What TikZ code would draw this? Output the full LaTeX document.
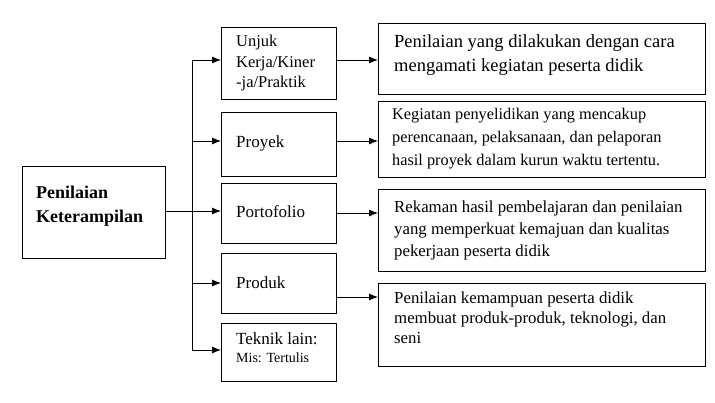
\documentclass[tikz,border=0pt]{standalone}
\usepackage{fontspec}
\setmainfont{Liberation Serif}
\usetikzlibrary{arrows.meta}
\begin{document}
\begin{tikzpicture}[x=1pt,y=-1pt,
 box/.style={draw,line width=1pt,anchor=north west,inner sep=0pt},
 txt/.style={align=left,anchor=north west,inner sep=0pt},
 arr/.style={line width=0.8pt,-{Latex[length=9pt,width=7pt]}},
 ln/.style={line width=0.8pt}]
\useasboundingbox (0,0) rectangle (715,403);
\node[box,minimum width=143,minimum height=92] (L) at (22,166) {};
\node[txt,font=\fontsize{18}{24}\selectfont\bfseries] at (36,186) {Penilaian\\Keterampilan};
\node[box,minimum width=115,minimum height=72] (m1) at (221,27) {};
\node[txt,font=\fontsize{16.5}{20.5}\selectfont] at (236,35) {Unjuk\\Kerja/Kiner\\-ja/Praktik};
\node[box,minimum width=115,minimum height=64] (m2) at (221,112) {};
\node[anchor=west,inner sep=0pt,font=\fontsize{17}{20}\selectfont] at (236,143) {Proyek};
\node[box,minimum width=115,minimum height=60] (m3) at (221,183) {};
\node[anchor=west,inner sep=0pt,font=\fontsize{17}{20}\selectfont] at (236,212) {Portofolio};
\node[box,minimum width=115,minimum height=60] (m4) at (221,253) {};
\node[anchor=west,inner sep=0pt,font=\fontsize{17}{20}\selectfont] at (236,283) {Produk};
\node[box,minimum width=115,minimum height=58] (m5) at (221,323) {};
\node[txt,font=\fontsize{17}{20}\selectfont] at (236,333) {Teknik lain:\\[-2pt]{\fontsize{14}{16}\selectfont Mis: Tertulis}};
\node[box,minimum width=327,minimum height=71] (r1) at (378,23) {};
\node[txt,font=\fontsize{18.5}{24}\selectfont] at (394,34) {Penilaian yang dilakukan dengan cara\\mengamati kegiatan peserta didik};
\node[box,minimum width=327,minimum height=76] (r2) at (378,101) {};
\node[txt,font=\fontsize{16.3}{23}\selectfont] at (392,108) {Kegiatan penyelidikan yang mencakup\\perencanaan, pelaksanaan, dan pelaporan\\hasil proyek dalam kurun waktu tertentu.};
\node[box,minimum width=327,minimum height=82] (r3) at (378,189) {};
\node[txt,font=\fontsize{16.8}{22}\selectfont] at (394,201) {Rekaman hasil pembelajaran dan penilaian\\yang memperkuat kemajuan dan kualitas\\pekerjaan peserta didik};
\node[box,minimum width=327,minimum height=83] (r4) at (378,283) {};
\node[txt,font=\fontsize{16.8}{20}\selectfont] at (394,292) {Penilaian kemampuan peserta didik\\membuat produk-produk, teknologi, dan\\seni};
\coordinate (t1) at (192,60); \coordinate (t5) at (192,350);
\coordinate (t2) at (192,141); \coordinate (t3) at (192,211); \coordinate (t4) at (192,283);
\draw[ln] (t1) -- (t5);
\draw[ln] (L.east |- t3) -- (t3);
\draw[arr] (t1) -- (m1.west |- t1);
\draw[arr] (t2) -- (m2.west |- t2);
\draw[arr] (t3) -- (m3.west |- t3);
\draw[arr] (t4) -- (m4.west |- t4);
\draw[arr] (t5) -- (m5.west |- t5);
\draw[arr] (m1.east |- 0,60) -- (r1.west |- 0,60);
\draw[arr] (m2.east |- 0,141) -- (r2.west |- 0,141);
\draw[arr] (m3.east |- 0,213) -- (r3.west |- 0,213);
\draw[arr] (m4.east |- 0,297) -- (r4.west |- 0,297);
\end{tikzpicture}
\end{document}
